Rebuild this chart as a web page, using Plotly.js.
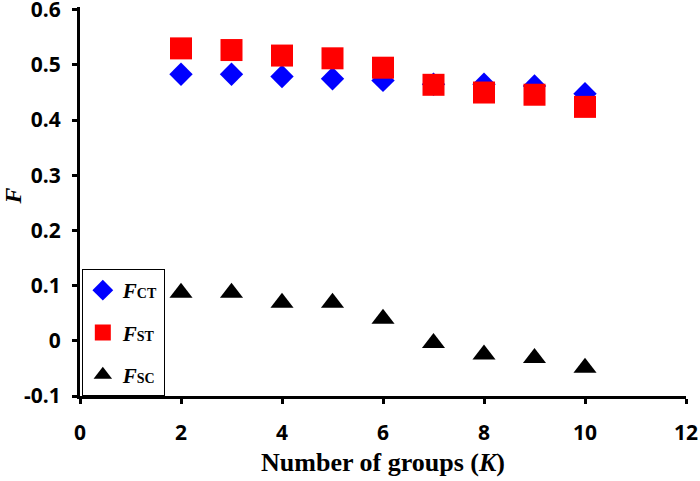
<!DOCTYPE html>
<html>
<head>
<meta charset="utf-8">
<script src="https://cdn.plot.ly/plotly-3.0.1.min.js"></script>
<style>html,body{margin:0;padding:0;background:#fff;}#chart{width:700px;height:481px;}</style>
</head>
<body>
<div id="chart"></div>
<script>
var groupsK = [2, 3, 4, 5, 6, 7, 8, 9, 10];
var fCT = [0.483, 0.483, 0.479, 0.475, 0.472, 0.465, 0.465, 0.462, 0.448];
var fST = [0.530, 0.527, 0.517, 0.512, 0.495, 0.464, 0.450, 0.446, 0.424];
var fSC = [0.087, 0.087, 0.069, 0.069, 0.040, -0.004, -0.025, -0.031, -0.049];
var xTicks = [0, 2, 4, 6, 8, 10, 12];
var yTicks = [-0.1, 0, 0.1, 0.2, 0.3, 0.4, 0.5, 0.6];

function lbl(sub) {
  return "<b><i>F</i></b><b><span style='font-size:14px'>" + sub + "</span></b>";
}

var traces = [
  {x: groupsK, y: fCT, mode: 'markers', type: 'scatter', name: lbl('CT'), legendgroup: 'a',
   marker: {symbol: 'diamond', color: '#0000ff', size: 18}},
  {x: groupsK, y: fST, mode: 'markers', type: 'scatter', name: lbl('ST'), legendgroup: 'b',
   marker: {symbol: 'square', color: '#ff0000', size: 22}},
  {x: groupsK, y: fSC, mode: 'markers', type: 'scatter', name: lbl('SC'), legendgroup: 'c',
   marker: {symbol: 'triangle-up', color: '#000000', size: 20}}
];

var tickFontX = {family: 'Open Sans, Lato, sans-serif', size: 21, weight: 'bold', color: '#000'};
var tickFontY = {family: 'Open Sans, Lato, sans-serif', size: 21, weight: 'bold', color: '#000'};

var layout = {
  width: 700, height: 481,
  margin: {l: 80, r: 14, t: 7, b: 85},
  paper_bgcolor: '#fff', plot_bgcolor: '#fff',
  showlegend: true,
  legend: {x: 0.003, y: 0.0, xanchor: 'left', yanchor: 'bottom',
           bordercolor: '#000', borderwidth: 1, bgcolor: '#fff',
           font: {family: 'Liberation Serif, Times New Roman, serif', size: 21, color: '#000'},
           tracegroupgap: 12, traceorder: 'grouped', itemwidth: 30},
  xaxis: {range: [0, 12], tickmode: 'array', tickvals: xTicks, ticktext: xTicks.map(String),
          showgrid: false, zeroline: false, showline: true, linecolor: '#000', linewidth: 3,
          ticks: 'outside', tickwidth: 3, ticklen: 5, tickcolor: '#000', tickfont: tickFontX,
          ticklabeloverflow: 'allow', ticklabelstandoff: 11,
          title: {text: '<b>Number of groups (<i>K</i>)</b>', standoff: 8,
                  font: {family: 'Liberation Serif, Times New Roman, serif', size: 26, color: '#000'}}},
  yaxis: {range: [-0.1, 0.605], tickmode: 'array', tickvals: yTicks, ticktext: yTicks.map(String),
          showgrid: false, zeroline: false, showline: true, linecolor: '#000', linewidth: 3,
          ticks: 'outside', tickwidth: 3, ticklen: 5, tickcolor: '#000', tickfont: tickFontY,
          ticklabeloverflow: 'allow', ticklabelstandoff: 7,
          title: {text: '&nbsp;&nbsp;<b><i>F</i></b>', standoff: 3,
                  font: {family: 'Liberation Serif, Times New Roman, serif', size: 24, color: '#000'}}}
};

Plotly.newPlot('chart', traces, layout, {displayModeBar: false, staticPlot: true});
</script>
</body>
</html>
